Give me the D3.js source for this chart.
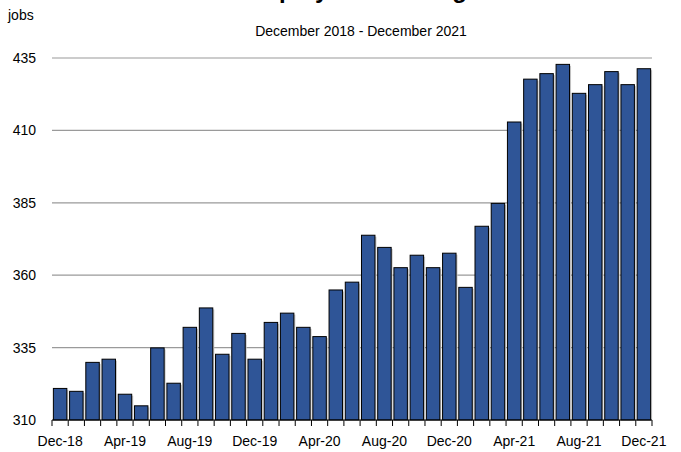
<!DOCTYPE html>
<html><head><meta charset="utf-8">
<script src="https://cdn.jsdelivr.net/npm/d3@7"></script>
<style>body{margin:0;background:#fff}svg{display:block}text{font-family:"Liberation Sans",Arial,sans-serif}</style>
</head><body><svg id="c" width="681" height="452"></svg>
<script>
const months = ["Dec-18","Jan-19","Feb-19","Mar-19","Apr-19","May-19","Jun-19","Jul-19","Aug-19","Sep-19","Oct-19","Nov-19",
"Dec-19","Jan-20","Feb-20","Mar-20","Apr-20","May-20","Jun-20","Jul-20","Aug-20","Sep-20","Oct-20","Nov-20",
"Dec-20","Jan-21","Feb-21","Mar-21","Apr-21","May-21","Jun-21","Jul-21","Aug-21","Sep-21","Oct-21","Nov-21","Dec-21"];
const jobs = [320.9,319.9,329.9,331.0,318.9,314.9,334.9,322.7,342.0,348.7,332.7,339.9,
331.0,343.7,346.9,342.0,338.8,354.9,357.6,373.8,369.6,362.6,366.9,362.6,
367.6,355.8,376.9,384.8,412.9,427.7,429.6,432.8,422.8,425.8,430.3,425.8,431.3];
const yTicks = [310,335,360,385,410,435];
const xLabels = ["Dec-18","Apr-19","Aug-19","Dec-19","Apr-20","Aug-20","Dec-20","Apr-21","Aug-21","Dec-21"];
const title = "Employment Change";
const subtitle = "December 2018 - December 2021";
const yUnit = "jobs";

const svg = d3.select("#c");
const L = 52, R = 652, T = 58, B = 420;
const x = d3.scaleBand().domain(months).range([L, R]).paddingInner(0.17).paddingOuter(0.085);
const y = d3.scaleLinear().domain([310, 435]).range([B, T]);

// gridlines
svg.append("g").selectAll("line").data(yTicks.filter(d => d > 310)).join("line")
  .attr("x1", L).attr("x2", R).attr("y1", d => y(d)).attr("y2", d => y(d))
  .attr("stroke", "#9a9a9a").attr("stroke-width", 1.2);

// y labels
svg.append("g").selectAll("text").data(yTicks).join("text")
  .attr("x", 36).attr("y", d => y(d) + 5).attr("text-anchor", "end")
  .attr("font-size", 14).attr("fill", "#000").text(d => d);

// bar shadows
svg.append("g").selectAll("rect").data(jobs).join("rect")
  .attr("x", (d, i) => x(months[i]) + 1.5).attr("width", x.bandwidth())
  .attr("y", d => y(d) + 1.5).attr("height", d => B - y(d) - 1.5)
  .attr("fill", "#c8c8c8");
// bars
svg.append("g").selectAll("rect").data(jobs).join("rect")
  .attr("x", (d, i) => x(months[i])).attr("width", x.bandwidth())
  .attr("y", d => y(d)).attr("height", d => B - y(d))
  .attr("fill", "#2f5597").attr("stroke", "#000").attr("stroke-width", 1);

// x axis
const step = x.step();
const tickPos = d3.range(months.length + 1).map(i => L + i * step);
svg.append("line").attr("x1", L).attr("x2", R).attr("y1", B).attr("y2", B).attr("stroke", "#000").attr("stroke-width", 1.2);
svg.append("g").selectAll("line").data(tickPos).join("line")
  .attr("x1", d => d).attr("x2", d => d).attr("y1", B).attr("y2", B + 6)
  .attr("stroke", "#000").attr("stroke-width", 1);
svg.append("g").selectAll("text").data(xLabels).join("text")
  .attr("x", d => x(d) + x.bandwidth() / 2).attr("y", 446).attr("text-anchor", "middle")
  .attr("font-size", 14).attr("fill", "#000").text(d => d);

// titles
svg.append("text").attr("x", 361).attr("y", -2).attr("text-anchor", "middle")
  .attr("font-size", 24).attr("font-weight", "bold").text(title);
svg.append("text").attr("x", 361).attr("y", 36).attr("text-anchor", "middle")
  .attr("font-size", 14).text(subtitle);
svg.append("text").attr("x", 8).attr("y", 20).attr("font-size", 14).text(yUnit);
</script></body></html>
